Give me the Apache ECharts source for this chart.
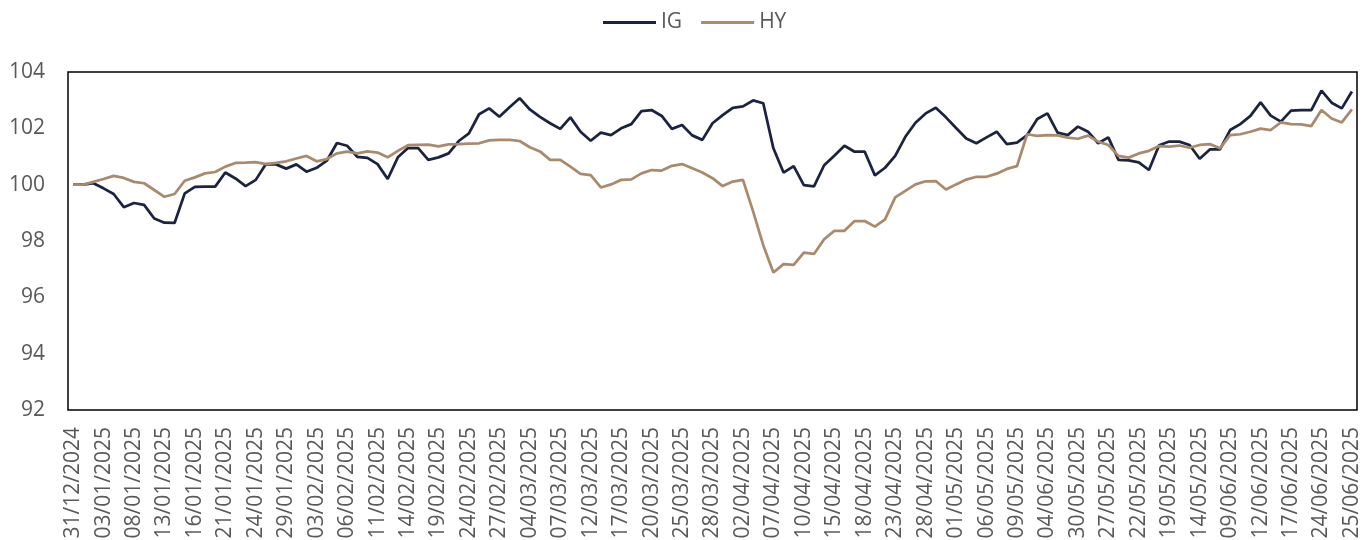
<!DOCTYPE html>
<html>
<head>
<meta charset="utf-8">
<script src="https://cdn.jsdelivr.net/npm/echarts@6/dist/echarts.min.js"></script>
<style>
  html, body { margin: 0; padding: 0; background: #fff; }
  #chart { width: 1365px; height: 540px; }
</style>
</head>
<body>
<div id="chart"></div>
<script>
const categories = [
  "31/12/2024",
  "01/01/2025","02/01/2025","03/01/2025","06/01/2025","07/01/2025","08/01/2025","09/01/2025","10/01/2025","13/01/2025","14/01/2025",
  "15/01/2025","16/01/2025","17/01/2025","20/01/2025","21/01/2025","22/01/2025","23/01/2025","24/01/2025","27/01/2025","28/01/2025",
  "29/01/2025","30/01/2025","31/01/2025",
  "03/02/2025","04/02/2025","05/02/2025","06/02/2025","07/02/2025","10/02/2025","11/02/2025","12/02/2025","13/02/2025","14/02/2025",
  "17/02/2025","18/02/2025","19/02/2025","20/02/2025","21/02/2025","24/02/2025","25/02/2025","26/02/2025","27/02/2025","28/02/2025",
  "03/03/2025","04/03/2025","05/03/2025","06/03/2025","07/03/2025","10/03/2025","11/03/2025","12/03/2025","13/03/2025","14/03/2025",
  "17/03/2025","18/03/2025","19/03/2025","20/03/2025","21/03/2025","24/03/2025","25/03/2025","26/03/2025","27/03/2025","28/03/2025",
  "31/03/2025",
  "01/04/2025","02/04/2025","03/04/2025","04/04/2025","07/04/2025","08/04/2025","09/04/2025","10/04/2025","11/04/2025","14/04/2025",
  "15/04/2025","16/04/2025","17/04/2025","18/04/2025","21/04/2025","22/04/2025","23/04/2025","24/04/2025","25/04/2025","28/04/2025",
  "29/04/2025","30/04/2025",
  "01/05/2025","02/05/2025","05/05/2025","06/05/2025","07/05/2025","08/05/2025","09/05/2025",
  "06/06/2025","05/06/2025","04/06/2025","03/06/2025","02/06/2025","30/05/2025","29/05/2025","28/05/2025","27/05/2025","26/05/2025",
  "23/05/2025","22/05/2025","21/05/2025","20/05/2025","19/05/2025","16/05/2025","15/05/2025","14/05/2025","13/05/2025","12/05/2025",
  "09/06/2025","10/06/2025","11/06/2025","12/06/2025","13/06/2025","16/06/2025","17/06/2025","18/06/2025","19/06/2025","24/06/2025",
  "23/06/2025","20/06/2025","25/06/2025"
];

const igValues = [
  100.00,100.00,100.05,99.87,99.67,99.20,99.35,99.28,98.80,98.65,
  98.64,99.69,99.92,99.93,99.93,100.43,100.22,99.95,100.17,100.73,
  100.72,100.57,100.72,100.46,100.60,100.85,101.48,101.38,100.99,100.95,
  100.73,100.20,100.97,101.30,101.30,100.88,100.97,101.11,101.55,101.82,
  102.50,102.71,102.41,102.75,103.07,102.67,102.41,102.18,101.98,102.39,
  101.88,101.56,101.85,101.76,102.00,102.15,102.61,102.65,102.44,101.98,
  102.12,101.75,101.59,102.18,102.47,102.73,102.78,102.99,102.89,101.29,
  100.43,100.66,99.98,99.94,100.69,101.03,101.38,101.17,101.17,100.33,
  100.60,101.02,101.70,102.20,102.53,102.73,102.39,102.01,101.64,101.47,
  101.68,101.88,101.44,101.49,101.76,102.33,102.53,101.85,101.76,102.06,
  101.88,101.47,101.68,100.88,100.86,100.79,100.52,101.40,101.53,101.53,
  101.41,100.92,101.25,101.25,101.94,102.15,102.44,102.92,102.45,102.24,
  102.63,102.65,102.65,103.34,102.91,102.71,103.31
];

const hyValues = [
  100.00,100.00,100.10,100.20,100.31,100.24,100.10,100.05,99.81,99.57,
  99.67,100.14,100.26,100.40,100.45,100.64,100.77,100.78,100.80,100.73,
  100.77,100.83,100.93,101.02,100.83,100.91,101.11,101.17,101.11,101.18,
  101.14,100.97,101.20,101.40,101.41,101.42,101.36,101.43,101.44,101.46,
  101.47,101.57,101.59,101.59,101.55,101.33,101.18,100.88,100.88,100.64,
  100.38,100.34,99.90,100.01,100.17,100.19,100.40,100.52,100.50,100.67,
  100.73,100.58,100.43,100.23,99.95,100.11,100.17,99.05,97.85,96.88,
  97.18,97.15,97.59,97.54,98.06,98.36,98.36,98.71,98.71,98.51,
  98.77,99.55,99.78,100.01,100.12,100.13,99.83,100.01,100.18,100.28,
  100.28,100.39,100.56,100.66,101.79,101.73,101.76,101.75,101.67,101.63,
  101.74,101.53,101.41,101.02,100.96,101.11,101.20,101.37,101.35,101.39,
  101.31,101.41,101.44,101.29,101.76,101.79,101.88,101.99,101.94,102.21,
  102.15,102.14,102.08,102.65,102.35,102.21,102.67
];

const seriesNames = ["IG", "HY"];
const yTicks = { min: 92, max: 104, interval: 2 };

const FONT = "'Open Sans', 'Liberation Sans', sans-serif";
const TEXT = "#595959";

const chart = echarts.init(document.getElementById("chart"), null, { renderer: "canvas" });
chart.setOption({
  animation: false,
  backgroundColor: "#ffffff",
  textStyle: { fontFamily: FONT },
  legend: {
    data: seriesNames,
    left: 603,
    top: 12,
    padding: 0,
    icon: "rect",
    itemWidth: 53,
    itemHeight: 3,
    itemGap: 19,
    textStyle: { fontFamily: FONT, fontSize: 21, color: TEXT, padding: [0, 0, 0, 0] }
  },
  grid: {
    left: 68,
    right: 8,
    top: 72,
    bottom: 130,
    show: true,
    borderColor: "#000000",
    borderWidth: 1.5,
    backgroundColor: "transparent",
    containLabel: false,
    outerBoundsMode: "none"
  },
  xAxis: {
    type: "category",
    data: categories,
    boundaryGap: true,
    axisLine: { show: false },
    axisTick: { show: false },
    splitLine: { show: false },
    axisLabel: {
      interval: 2,
      rotate: 90,
      margin: 17,
      fontFamily: FONT,
      fontSize: 21,
      color: TEXT
    }
  },
  yAxis: {
    type: "value",
    min: yTicks.min,
    max: yTicks.max,
    interval: yTicks.interval,
    axisLine: { show: false },
    axisTick: { show: false },
    splitLine: { show: false },
    axisLabel: {
      margin: 23,
      fontFamily: FONT,
      fontSize: 21,
      color: TEXT
    }
  },
  series: [
    {
      name: seriesNames[0],
      type: "line",
      data: igValues,
      showSymbol: false,
      symbol: "none",
      color: "#1c2340",
      lineStyle: { width: 2.75, color: "#1c2340" }
    },
    {
      name: seriesNames[1],
      type: "line",
      data: hyValues,
      showSymbol: false,
      symbol: "none",
      color: "#a98a6d",
      lineStyle: { width: 2.75, color: "#a98a6d" }
    }
  ]
});
</script>
</body>
</html>
